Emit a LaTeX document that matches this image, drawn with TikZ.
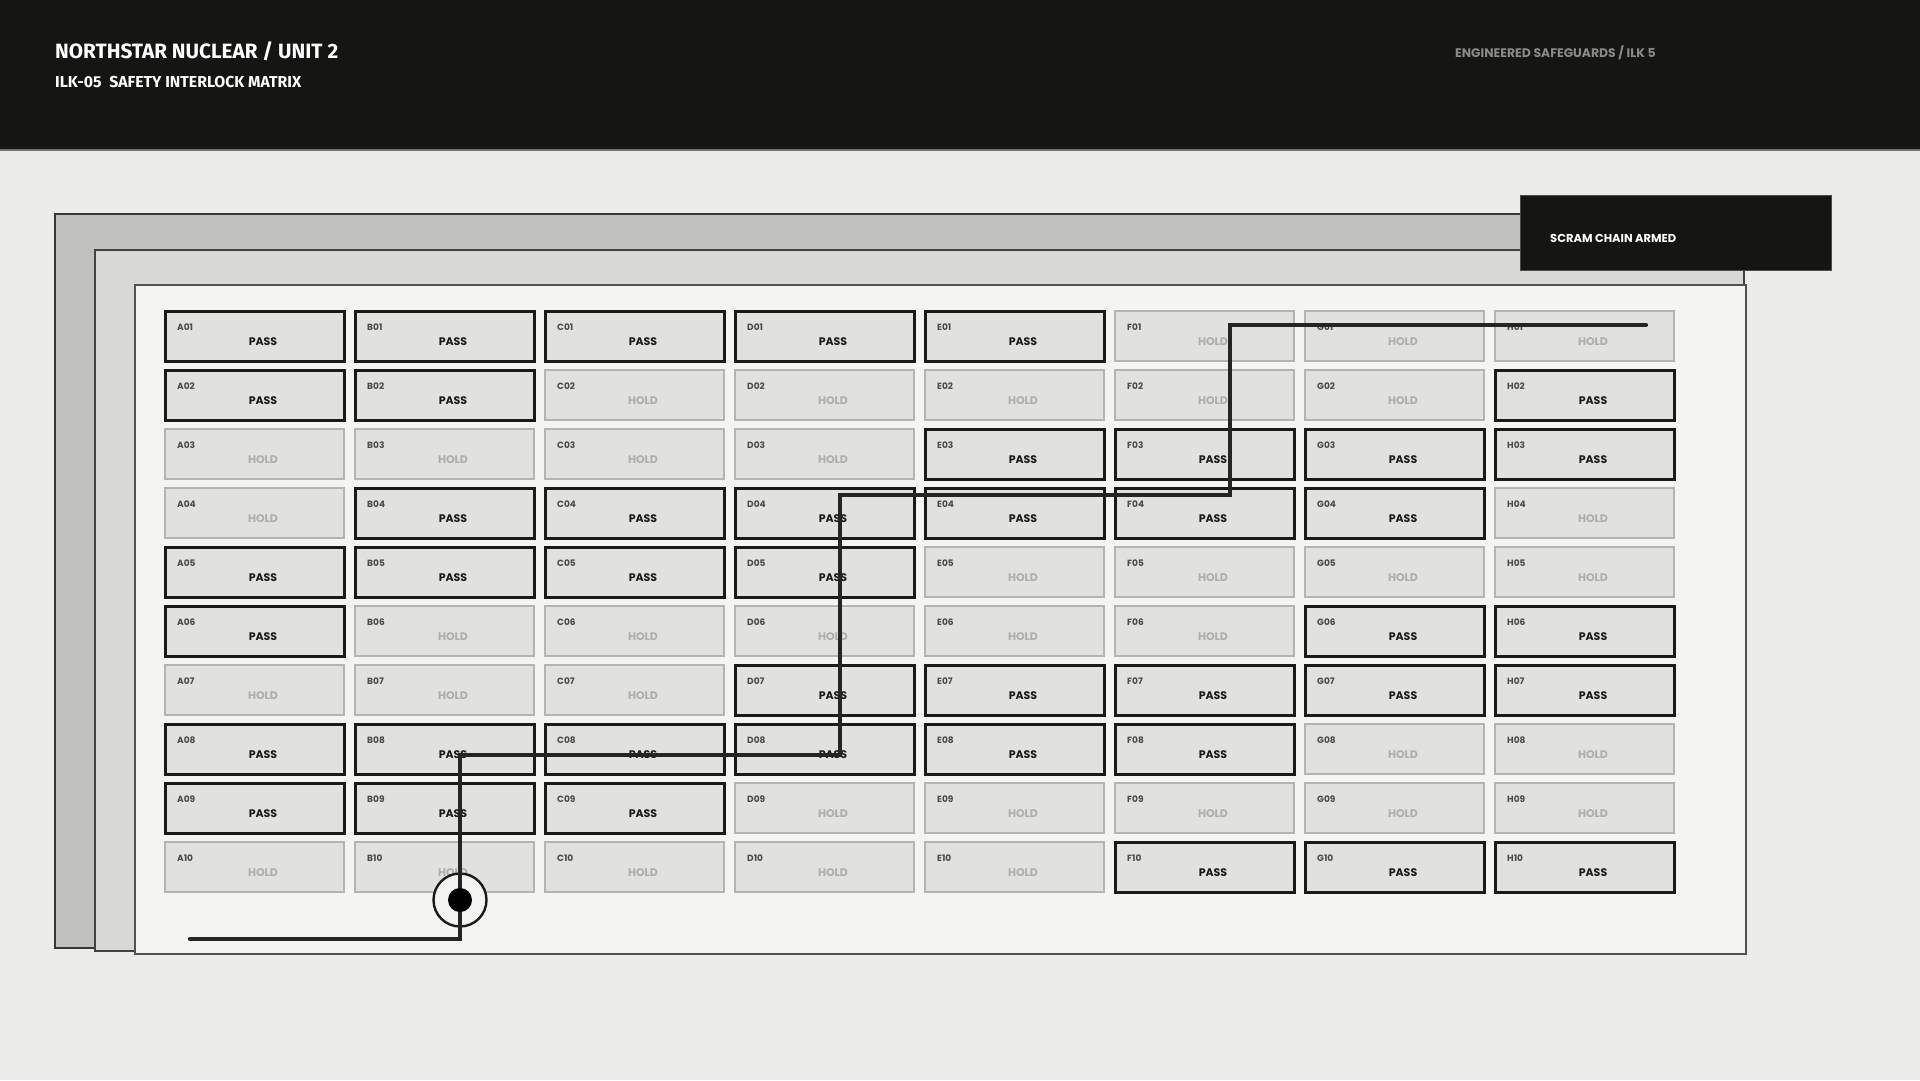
\documentclass[tikz,border=0pt]{standalone}
\usepackage{fontspec}
\setmainfont{Poppins}
\newfontfamily\headfont{Fira Sans}
\usetikzlibrary{positioning}

\definecolor{pagebg}{HTML}{ECEDEA}
\definecolor{band}{HTML}{151614}
\definecolor{layerA}{HTML}{C0C1BE}
\definecolor{layerB}{HTML}{D8D9D6}
\definecolor{panel}{HTML}{F4F5F3}
\definecolor{cellbg}{HTML}{E1E2DF}
\definecolor{ink}{HTML}{1A1B19}
\definecolor{idgrey}{HTML}{4A4B49}
\definecolor{holdline}{HTML}{B4B5B2}
\definecolor{holdtext}{HTML}{ADAEAB}
\definecolor{subgrey}{HTML}{8A8B88}

\newcommand\rowno[1]{\ifnum#1<10 0\fi#1}

\begin{document}
\begin{tikzpicture}[x=1pt,y=-1pt,
        layer/.style={draw=#1,line width=2.4pt},
        cell/.style={rectangle,anchor=north west,fill=cellbg,minimum width=179pt,minimum height=50pt,inner sep=0pt},
        PASS/.style={draw=ink,line width=2.6pt},
        HOLD/.style={draw=holdline,line width=2.2pt},
        PASS txt/.style={text=ink},
        HOLD txt/.style={text=holdtext},
        cellid/.style={anchor=west,inner sep=0pt,text=idgrey,font=\fontsize{9}{9}\selectfont\bfseries},
        status/.style={inner sep=0pt,font=\fontsize{11}{11}\selectfont\bfseries},
        chain/.style={draw=ink!95,line width=4.2pt,line cap=round,line join=miter}]

    % page and header band
    \fill[pagebg] (0,0) rectangle (1920,1080);
    \useasboundingbox (0,0) rectangle (1920,1080);
    \fill[band] (0,0) rectangle (1920,150);
    \draw[black!55,line width=1.2pt] (0,150) -- (1920,150);

    \node[anchor=west,inner sep=0pt,text=white,font=\headfont\fontsize{20.7}{20.7}\selectfont\bfseries] (title) at (55,51) {NORTHSTAR NUCLEAR / UNIT 2};
    \node[anchor=west,inner sep=0pt,text=white,font=\headfont\fontsize{15.8}{15.8}\selectfont\bfseries] (subtitle) at (55,82) {ILK-05\enspace SAFETY INTERLOCK MATRIX};
    \node[anchor=west,inner sep=0pt,text=subgrey,font=\fontsize{12.4}{12.4}\selectfont\bfseries] (system) at (1455,53) {ENGINEERED SAFEGUARDS / ILK 5};

    % stacked housing
    \filldraw[layer=black!78,fill=layerA] (55,214) rectangle (1740,948);
    \filldraw[layer=black!74,fill=layerB] (95,250) rectangle (1744,951);
    \filldraw[layer=black!68,fill=panel] (135,285) rectangle (1746,954);

    \node[rectangle,anchor=north west,fill=band,draw=black!70,line width=0.8pt,minimum width=311pt,minimum height=75pt] (scram) at (1520,195) {};
    \node[anchor=west,inner sep=0pt,text=white,font=\fontsize{11.5}{11.5}\selectfont\bfseries] (scramtxt) at (1550,238) {SCRAM CHAIN ARMED};

    % interlock cells, column by column
    \foreach \col/\sts [count=\i from 0] in {
            A/{PASS,PASS,HOLD,HOLD,PASS,PASS,HOLD,PASS,PASS,HOLD},
            B/{PASS,PASS,HOLD,PASS,PASS,HOLD,HOLD,PASS,PASS,HOLD},
            C/{PASS,HOLD,HOLD,PASS,PASS,HOLD,HOLD,PASS,PASS,HOLD},
            D/{PASS,HOLD,HOLD,PASS,PASS,HOLD,PASS,PASS,HOLD,HOLD},
            E/{PASS,HOLD,PASS,PASS,HOLD,HOLD,PASS,PASS,HOLD,HOLD},
            F/{HOLD,HOLD,PASS,PASS,HOLD,HOLD,PASS,PASS,HOLD,PASS},
            G/{HOLD,HOLD,PASS,PASS,HOLD,PASS,PASS,HOLD,HOLD,PASS},
            H/{HOLD,PASS,PASS,HOLD,HOLD,PASS,PASS,HOLD,HOLD,PASS}} {
        \foreach \st [count=\j] in \sts {
            \pgfmathsetmacro\x{164+190*\i}
            \pgfmathsetmacro\y{310+59*(\j-1)}
            \node[cell,\st] (\col\j) at (\x,\y) {};
            \node[cellid] (\col\j-id) at (\x+13,\y+17) {\col\rowno{\j}};
            \node[status,\st\space txt] (\col\j-st) at (\x+99,\y+32) {\st};
        }
    }

    % scram chain trace
    \node[circle,draw=ink,fill=panel,line width=2.4pt,minimum size=53pt,inner sep=0pt] (tap) at (460,900) {};
    \coordinate (feed) at (190,939);
    \coordinate (k1) at (460,939);
    \coordinate (k2) at (460,755);
    \coordinate (k3) at (840,755);
    \coordinate (k4) at (840,495);
    \coordinate (k5) at (1230,495);
    \coordinate (k6) at (1230,325);
    \coordinate (trip) at (1646,325);
    \draw[chain] (feed) -- (k1) -- (k2) -- (k3) -- (k4) -- (k5) -- (k6) -- (trip);
    \fill[black] (tap.center) circle (12);
\end{tikzpicture}
\end{document}
